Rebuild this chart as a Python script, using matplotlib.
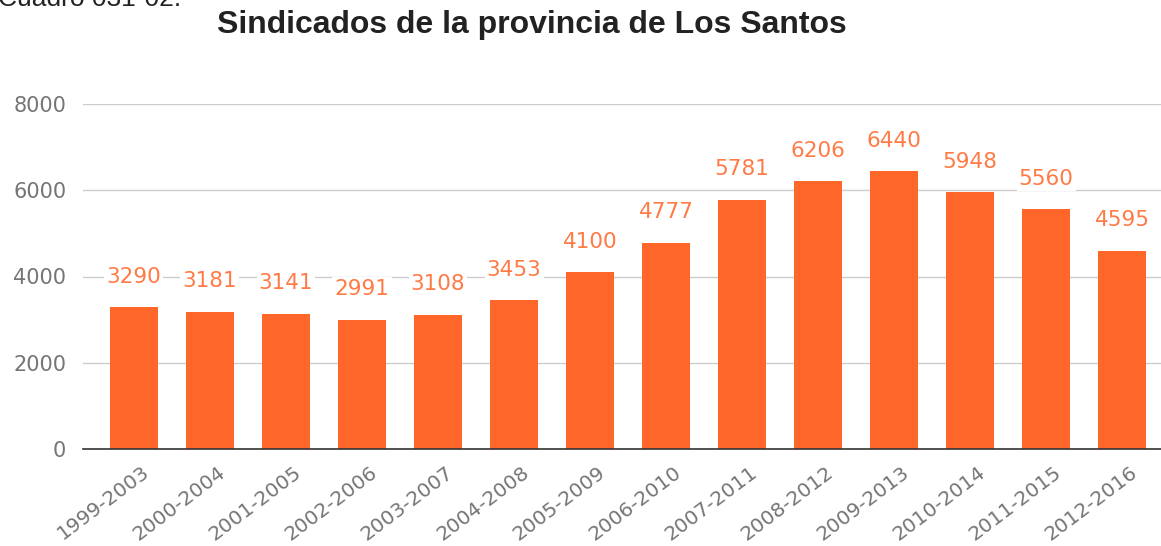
import matplotlib
matplotlib.use("Agg")
import matplotlib.pyplot as plt

categories = ["1999-2003", "2000-2004", "2001-2005", "2002-2006", "2003-2007",
              "2004-2008", "2005-2009", "2006-2010", "2007-2011", "2008-2012",
              "2009-2013", "2010-2014", "2011-2015", "2012-2016"]
values = [3290, 3181, 3141, 2991, 3108, 3453, 4100, 4777, 5781, 6206, 6440,
          5948, 5560, 4595]
yticks = [0, 2000, 4000, 6000, 8000]

title = "Sindicados de la provincia de Los Santos"
caption = "Cuadro 031-02."

bar_color = "#FF662A"
label_color = "#FF7A45"
grey = "#757575"

fig = plt.figure(figsize=(11.61, 5.46), dpi=100)
ax = fig.add_axes([83 / 1161, 1 - 449 / 546, 1 - 83 / 1161, (449 - 104) / 546])

x = list(range(len(categories)))
ax.bar(x, values, width=0.63, color=bar_color, zorder=2)
for xi, v in zip(x, values):
    ax.annotate(str(v), (xi, v), xytext=(0, 22), textcoords="offset points",
                ha="center", va="center", fontsize=15.5, color=label_color,
                family="DejaVu Sans", zorder=4, annotation_clip=False,
                bbox=dict(boxstyle="square,pad=0.1", fc="white", ec="none"))

ax.set_xlim(-0.67, 13.51)
ax.set_ylim(0, 8000)
ax.set_yticks(yticks)
ax.set_yticklabels([str(t) for t in yticks], fontsize=15, color=grey,
                   family="DejaVu Sans")
ax.set_xticks(x)
ax.set_xticklabels([""] * len(categories))
# category labels, rotated, anchored just right of each tick
for xi, cat in zip(x, categories):
    ax.annotate(cat, (xi, 0), xycoords=ax.get_xaxis_transform(),
                xytext=(13, -21), textcoords="offset pixels",
                rotation=37, ha="right", va="center", rotation_mode="anchor",
                fontsize=14.5, color=grey, family="DejaVu Sans",
                annotation_clip=False)
ax.tick_params(axis="both", length=0)
ax.tick_params(axis="y", pad=12)
ax.grid(axis="y", color="#cccccc", linewidth=1, zorder=0)
ax.set_axisbelow(True)
for s in ["top", "right", "left"]:
    ax.spines[s].set_visible(False)
ax.spines["bottom"].set_color("#333333")
ax.spines["bottom"].set_linewidth(1.2)
ax.spines["bottom"].set_zorder(3)

fig.text(532 / 1161, 1 - 25 / 546, title, ha="center", va="center",
         fontsize=23, fontweight="bold", color="#222222",
         family="Liberation Sans")
fig.text(-2 / 1161, 1 - 6 / 546, caption, ha="left", va="baseline",
         fontsize=19, color="#222222", family="Liberation Sans")

fig.savefig("out.png", dpi=100)
